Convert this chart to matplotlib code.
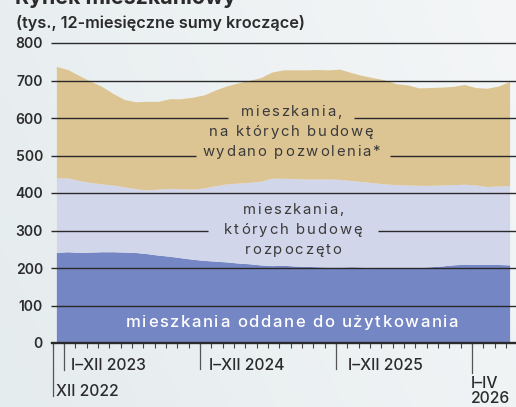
import numpy as np
import matplotlib
matplotlib.use("Agg")
import matplotlib.pyplot as plt
from matplotlib import font_manager
from matplotlib.ft2font import FT2Font
from matplotlib.colors import LinearSegmentedColormap

# ---------------- data (thousands, 12-month rolling sums), XII 2022 .. IV 2026 -------------
completed = [240, 242, 240, 241, 242, 242, 241, 240, 237, 233, 230, 226, 222, 219, 217, 215,
             212, 210, 207, 205, 206, 204, 203, 202, 201, 201, 202, 201, 200, 199, 198, 199,
             200, 202, 204, 207, 209, 208, 208, 208, 207]
started = [199, 197, 192, 186, 181, 178, 174, 170, 170, 176, 181, 184, 187, 193, 201, 208,
           213, 217, 223, 233, 232, 233, 233, 234, 235, 234, 230, 228, 226, 224, 223, 221,
           219, 217, 216, 214, 213, 212, 208, 209, 212]
permits = [297, 289, 280, 270, 260, 244, 233, 232, 236, 234, 239, 240, 245, 248, 255, 261,
           267, 272, 276, 283, 289, 290, 291, 292, 291, 294, 288, 283, 280, 277, 269, 267,
           260, 261, 261, 262, 266, 260, 262, 267, 277]

yticks = [0, 100, 200, 300, 400, 500, 600, 700, 800]
major_tick_months = [0, 1, 13, 25, 37]          # month index, 0 = XII 2022
major_tick_labels = ["XII 2022", "I\u2013XII 2023", "I\u2013XII 2024", "I\u2013XII 2025", "I\u2013IV\n2026"]
n_months = 41

title = "Rynek mieszkaniowy"
subtitle = "(tys., 12-miesięczne sumy kroczące)"
label_permits = ["mieszkania,", "na których budowę", "wydano pozwolenia*"]
label_started = ["mieszkania,", "których budowę", "rozpoczęto"]
label_completed = ["mieszkania oddane do użytkowania"]

# ---------------- style ----------------
W, H, DPI = 516, 407, 100
FAM = ["Inter", "DejaVu Sans"]
plt.rcParams["font.family"] = FAM
C_COMP = "#7586c4"
C_START = "#d2d6ea"
C_PERM = "#dcc593"
C_TXT = "#2b2b2b"
C_GRID = "#2a2a2a"

fig = plt.figure(figsize=(W / DPI, H / DPI), dpi=DPI)

# background gradient
bg = fig.add_axes([0, 0, 1, 1], zorder=-10)
cmap = LinearSegmentedColormap.from_list("bg", ["#e5ecee", "#f4f6f7"])
gx, gy = np.meshgrid(np.linspace(0, 1, 256), np.linspace(0, 1, 256))
bg.imshow(0.75 * gx + 0.25 * gy, extent=[0, 1, 0, 1], aspect="auto", cmap=cmap,
          origin="lower", vmin=0, vmax=1)
bg.axis("off")

# main axes: x pixels 52..516, y pixels 43 (800) .. 343 (0)
ax = fig.add_axes([52 / W, (H - 343) / H, 464 / W, 300 / H])
ax.patch.set_alpha(0)
ax.set_xlim(-0.06, 40.89)
ax.set_ylim(0, 800)

x = np.arange(n_months) + 0.37
ax.stackplot(x, completed, started, permits, colors=[C_COMP, C_START, C_PERM],
             linewidth=0, zorder=1, antialiased=True)


def px2x(px):
    return ax.transData.inverted().transform((px, 0))[0]


# grid lines with gaps for the labels
gaps = {600: (228, 354), 500: (196, 390), 300: (208, 378)}
for v in yticks[1:]:
    segs = [(51, 516)]
    if v in gaps:
        a, b = gaps[v]
        segs = [(51, a), (b, 516)]
    for a, b in segs:
        ax.plot([px2x(a), px2x(b)], [v, v], color=C_GRID, lw=1.0, zorder=3,
                clip_on=False, solid_capstyle="butt")

# y axis
ax.set_yticks(yticks)
ax.tick_params(axis="y", length=0, pad=6.5, labelsize=10, labelcolor=C_TXT)
for lbl in ax.get_yticklabels():
    lbl.set_fontweight("semibold")
for s in ["left", "right", "top"]:
    ax.spines[s].set_visible(False)
ax.spines["bottom"].set_color(C_GRID)
ax.spines["bottom"].set_linewidth(1.7)
ax.spines["bottom"].set_zorder(4)

# x axis ticks
ax.set_xticks([])
ax.set_xticks(range(n_months), minor=True)
ax.tick_params(axis="x", which="minor", length=3.8, width=0.8, color="#444444")
tick_len_px = [53, 27, 26, 26, 30]
label_dx_px = [3.5, 6.5, 9, 12, -1]
label_cy_px = [391.5, 365, 365, 365, 391]
xt = ax.get_xaxis_transform()
for m, L, dx, cy, txt in zip(major_tick_months, tick_len_px, label_dx_px, label_cy_px,
                             major_tick_labels):
    ax.plot([m, m], [0, -L / 300], transform=xt, color="#555555", lw=0.9,
            clip_on=False, zorder=4)
    xp = ax.transData.transform((m, 0))[0] + dx
    fig.text(xp / W, (H - cy) / H, txt, ha="left", va="center", fontsize=11.3,
             fontweight="medium", color=C_TXT, linespacing=0.92)

# title / subtitle
fig.text(15 / W, (H - 4) / H, title, ha="left", va="baseline", fontsize=15.4,
         fontweight="bold", color=C_TXT)
fig.text(16 / W, (H - 22.7) / H, subtitle, ha="left", va="center", fontsize=11.7,
         fontweight="semibold", color=C_TXT)


# letter-spaced text helper
def advances(text, fp):
    font = FT2Font(font_manager.findfont(fp))
    font.set_size(fp.get_size_in_points(), DPI)
    out = []
    for ch in text:
        g = font.load_char(ord(ch))
        out.append(g.linearHoriAdvance / 65536.0)
    return out


def spaced_lines(lines, cx_px, baselines_px, size, spacing, color, weight="normal"):
    fp = font_manager.FontProperties(family=FAM, size=size, weight=weight)
    for line, by in zip(lines, baselines_px):
        adv = advances(line, fp)
        total = sum(adv) + spacing * (len(line) - 1)
        xs = cx_px - total / 2
        pos = xs
        for ch, a in zip(line, adv):
            if ch != " ":
                fig.text(pos / W, (H - by) / H, ch, ha="left", va="baseline",
                         fontproperties=fp, color=color, zorder=5)
            pos += a + spacing


spaced_lines(label_permits, 291, [116, 136, 156], 10.7, 1.8, "#3a3a3a")
spaced_lines(label_started, 293, [213.5, 234, 254], 10.7, 1.8, "#3a3a3a")
spaced_lines(label_completed, 292, [327], 12, 1.55, "white", weight="medium")

fig.savefig("out.png", dpi=DPI)
